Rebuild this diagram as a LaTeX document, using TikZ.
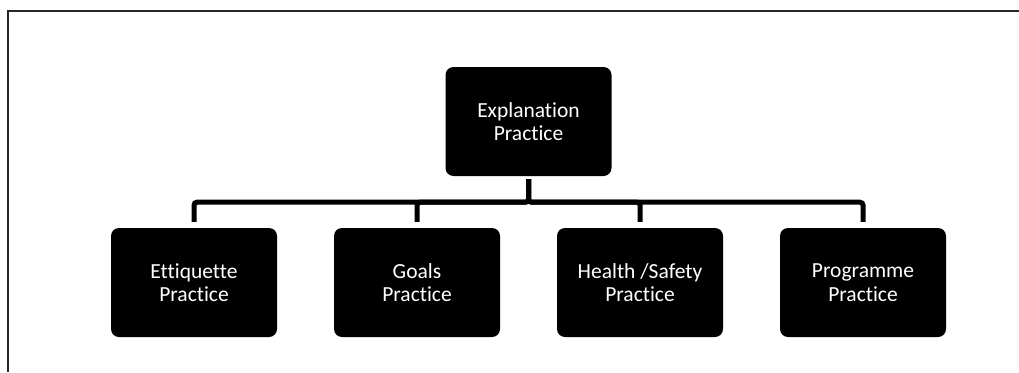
\documentclass[tikz,border=0pt]{standalone}
\usepackage{fontspec}
\setmainfont[Ligatures=NoCommon]{Carlito}
\begin{document}
\begin{tikzpicture}[x=1pt,y=-1pt,
  pbox/.style={fill=black,rounded corners=8pt,minimum width=166pt,minimum height=109pt,
    text=white,align=center,inner sep=0pt,font=\fontsize{21.5}{23.5}\selectfont},
  conn/.style={line width=5pt,rounded corners=3pt,shorten <=3pt,shorten >=6pt},
  frame/.style={line width=2.2pt,draw=black!85}]
\useasboundingbox (0,0) rectangle (1019,372);
\draw[frame] (8,372) -- (8,11) -- (1019,11);
\node[pbox] (top) at (528.5,121.5) {Explanation\\Practice};
\node[pbox] (c1) at (194,282.5) {Ettiquette\\Practice};
\node[pbox] (c2) at (417,282.5) {Goals\\Practice};
\node[pbox] (c3) at (640,282.5) {Health /Safety\\Practice};
\node[pbox] (c4) at (863,282.5) {Programme\\Practice};
\foreach \c in {c1,c2,c3,c4}
  \draw[conn] (top.south) -- ++(0,26) -| (\c.north);
\end{tikzpicture}
\end{document}
